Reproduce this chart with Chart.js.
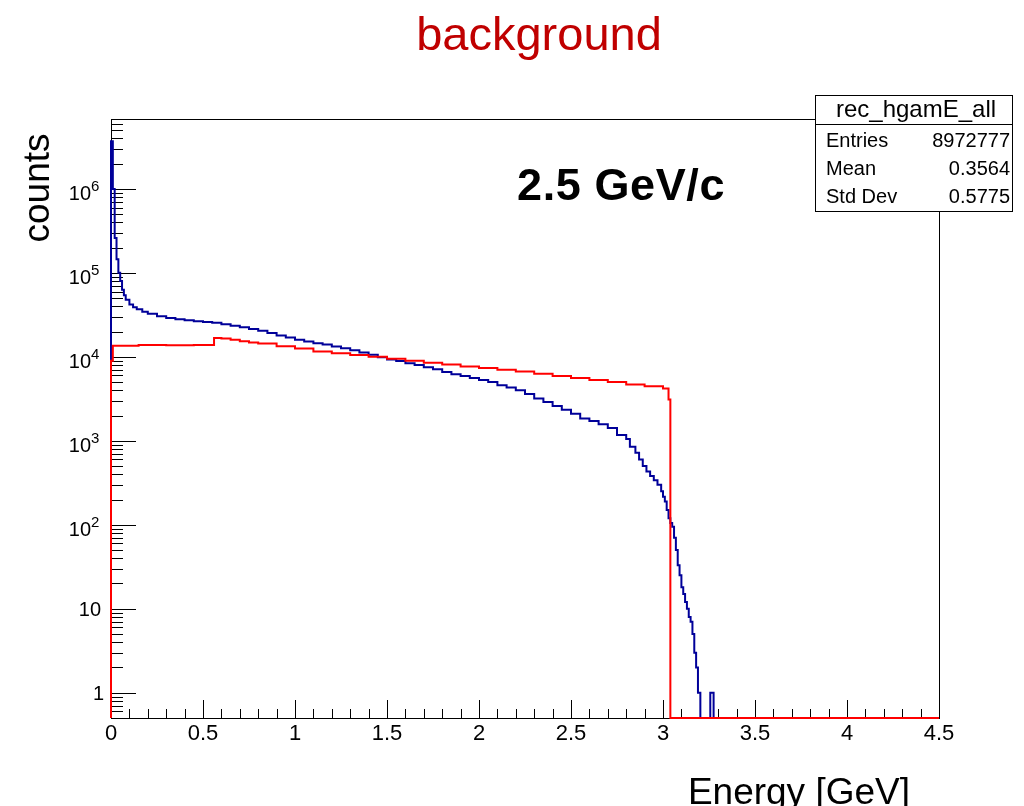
<!DOCTYPE html>
<html>
<head>
<meta charset="utf-8">
<title>background</title>
<script src="https://cdn.jsdelivr.net/npm/chart.js@4.4.1/dist/chart.umd.min.js"></script>
<style>
    html, body { margin: 0; padding: 0; background: #fff; }
    #wrap { width: 1024px; height: 806px; }
</style>
</head>
<body>
<div id="wrap"><canvas id="myChart" width="1024" height="806"></canvas></div>
<script>
// Нижние края бинов (ГэВ) и содержимое гистограмм
const blueEdges = [
    0, 0.01, 0.02, 0.03, 0.04, 0.05, 0.06, 0.07, 0.08, 0.10, 0.12, 0.14, 0.17, 0.20,
    0.25, 0.30, 0.35, 0.40, 0.45, 0.50, 0.55, 0.60, 0.65, 0.70, 0.75, 0.80, 0.85, 0.90,
    0.95, 1.00, 1.05, 1.10, 1.15, 1.20, 1.25, 1.30, 1.35, 1.40, 1.45, 1.50, 1.55, 1.60,
    1.65, 1.70, 1.75, 1.80, 1.85, 1.90, 1.95, 2.00, 2.05, 2.10, 2.15, 2.20, 2.25, 2.30,
    2.35, 2.40, 2.45, 2.50, 2.55, 2.60, 2.65, 2.70, 2.75, 2.80, 2.82, 2.85, 2.87, 2.89,
    2.91, 2.93, 2.95, 2.97, 2.99, 3.00, 3.01, 3.02, 3.03, 3.04, 3.05, 3.06, 3.07, 3.08,
    3.09, 3.10, 3.11, 3.12, 3.13, 3.14, 3.15, 3.16, 3.17, 3.18, 3.19, 3.203, 3.257, 3.275
];
const blueCounts = [
    3.7e6, 1.0e6, 2.6e5, 1.45e5, 1.0e5, 8.0e4, 6.3e4, 5.4e4, 4.8e4, 4.2e4, 3.9e4, 3.7e4, 3.45e4, 3.25e4,
    3.05e4, 2.9e4, 2.8e4, 2.72e4, 2.65e4, 2.6e4, 2.55e4, 2.45e4, 2.35e4, 2.25e4, 2.15e4, 2.05e4, 1.92e4, 1.8e4,
    1.7e4, 1.6e4, 1.52e4, 1.45e4, 1.4e4, 1.33e4, 1.27e4, 1.2e4, 1.13e4, 1.06e4, 9.9e3, 9.3e3, 8.9e3, 8.4e3,
    8.0e3, 7.5e3, 7.1e3, 6.6e3, 6.2e3, 5.9e3, 5.6e3, 5.3e3, 5.0e3, 4.6e3, 4.3e3, 4.0e3, 3.6e3, 3.2e3,
    2.9e3, 2.6e3, 2.35e3, 2.1e3, 1.85e3, 1.72e3, 1.58e3, 1.42e3, 1.17e3, 1.05e3, 850, 720, 600, 500,
    430, 380, 340, 300, 250, 215, 190, 150, 120, 105, 95, 70, 50, 33,
    25, 18, 15, 12, 10, 8, 7, 5, 3, 2, 1, 0, 1, 0
];
const redEdges = [
    0, 0.01, 0.15, 0.30, 0.45, 0.56, 0.60, 0.65, 0.70, 0.75, 0.80, 0.90, 1.00, 1.10,
    1.20, 1.30, 1.40, 1.50, 1.60, 1.70, 1.80, 1.90, 2.00, 2.10, 2.20, 2.30, 2.40, 2.50,
    2.60, 2.70, 2.80, 2.90, 3.00, 3.03, 3.04
];
const redCounts = [
    9.0e3, 1.36e4, 1.38e4, 1.37e4, 1.38e4, 1.68e4, 1.65e4, 1.6e4, 1.53e4, 1.48e4, 1.44e4, 1.34e4, 1.26e4, 1.16e4,
    1.1e4, 1.05e4, 1.0e4, 9.5e3, 9.0e3, 8.5e3, 8.1e3, 7.7e3, 7.35e3, 7.0e3, 6.7e3, 6.3e3, 5.9e3, 5.6e3,
    5.3e3, 5.0e3, 4.7e3, 4.45e3, 4.2e3, 3.1e3, 0
];

// Подписи осей
const xTickValues = [0, 0.5, 1, 1.5, 2, 2.5, 3, 3.5, 4, 4.5];
const yTickValues = [1, 10, 100, 1000, 10000, 100000, 1000000];
const yTickLabels = ['1', '10', '10^2', '10^3', '10^4', '10^5', '10^6'];

// Окно статистики
const statNames = ['Entries', 'Mean', 'Std Dev'];
const statValues = ['8972777', '0.3564', '0.5775'];

const X_MAX = 4.5;
const Y_MIN = 0.5;
const Y_MAX = 6.8e6;
const FONT = '"Liberation Sans", Arial, Helvetica, sans-serif';

// Гистограмма в виде ступенчатой линии (пустые бины рисуются по нижней рамке)
function toPoints(edges, counts) {
    const pts = [{ x: 0, y: Y_MIN }];
    edges.forEach((e, i) => pts.push({ x: e, y: counts[i] > 0 ? counts[i] : Y_MIN }));
    const last = counts[counts.length - 1];
    pts.push({ x: X_MAX, y: last > 0 ? last : Y_MIN });
    return pts;
}

// Рамка, внутренние засечки и подписи как в ROOT
const rootFrame = {
    id: 'rootFrame',
    beforeDatasetsDraw(chart) {
        const { ctx, chartArea: a } = chart;
        const xs = chart.scales.x;
        const ys = chart.scales.y;
        ctx.save();
        ctx.strokeStyle = '#000';
        ctx.lineWidth = 1;
        ctx.beginPath();
        for (let i = 0; i <= 45; i++) {
            const px = Math.round(xs.getPixelForValue(i / 10)) + 0.5;
            const len = i % 5 === 0 ? 18 : 9;
            ctx.moveTo(px, a.bottom);
            ctx.lineTo(px, a.bottom - len);
        }
        for (let e = -1; e <= 6; e++) {
            for (let m = 1; m <= 9; m++) {
                const v = m * Math.pow(10, e);
                if (v < Y_MIN || v > Y_MAX) continue;
                const py = Math.round(ys.getPixelForValue(v)) + 0.5;
                const len = m === 1 ? 25 : 12;
                ctx.moveTo(a.left, py);
                ctx.lineTo(a.left + len, py);
            }
        }
        ctx.stroke();
        ctx.strokeRect(Math.round(a.left) + 0.5, Math.round(a.top) + 0.5,
            Math.round(a.right - a.left), Math.round(a.bottom - a.top));

        // Подписи логарифмической оси со степенями
        ctx.fillStyle = '#000';
        ctx.textBaseline = 'alphabetic';
        yTickValues.forEach((v, i) => {
            const py = ys.getPixelForValue(v);
            const [base, exp] = yTickLabels[i].split('^');
            if (exp) {
                ctx.font = `20px ${FONT}`;
                ctx.textAlign = 'right';
                ctx.fillText(base, 91, py + 11);
                ctx.font = `15px ${FONT}`;
                ctx.textAlign = 'left';
                ctx.fillText(exp, 91, py + 2);
            } else {
                ctx.font = `20px ${FONT}`;
                ctx.textAlign = 'right';
                ctx.fillText(base, base === '1' ? 104 : 101, py + 7.5);
            }
        });
        ctx.restore();
    },
    afterDraw(chart) {
        const ctx = chart.ctx;
        ctx.save();

        // Заголовок
        ctx.fillStyle = '#c00000';
        ctx.font = `47px ${FONT}`;
        ctx.textAlign = 'center';
        ctx.textBaseline = 'alphabetic';
        ctx.fillText('background', 539, 50);

        // Импульс пучка
        ctx.fillStyle = '#000';
        ctx.font = `bold 45px ${FONT}`;
        ctx.textAlign = 'left';
        ctx.letterSpacing = '0.6px';
        ctx.fillText('2.5 GeV/c', 517, 200);
        ctx.letterSpacing = '0px';

        // Названия осей
        ctx.font = `37px ${FONT}`;
        ctx.textAlign = 'right';
        ctx.fillText('Energy [GeV]', 910, 804);

        ctx.save();
        ctx.translate(49, 188);
        ctx.rotate(-Math.PI / 2);
        ctx.font = `37px ${FONT}`;
        ctx.textAlign = 'center';
        ctx.fillText('counts', 0, 0);
        ctx.restore();

        // Окно статистики
        ctx.fillStyle = '#fff';
        ctx.fillRect(815.5, 95.5, 197, 116);
        ctx.strokeStyle = '#000';
        ctx.lineWidth = 1;
        ctx.strokeRect(815.5, 95.5, 197, 116);
        ctx.beginPath();
        ctx.moveTo(815.5, 124.5);
        ctx.lineTo(1012.5, 124.5);
        ctx.stroke();

        ctx.fillStyle = '#000';
        ctx.font = `24px ${FONT}`;
        ctx.textAlign = 'center';
        ctx.fillText('rec_hgamE_all', 916, 117);

        ctx.font = `20px ${FONT}`;
        const rowY = [147, 175, 203];
        statNames.forEach((name, i) => {
            ctx.textAlign = 'left';
            ctx.fillText(name, 826, rowY[i]);
            ctx.textAlign = 'right';
            ctx.fillText(statValues[i], 1010, rowY[i]);
        });
        ctx.restore();
    }
};

// Формирование графика
function renderHistogram() {
    const ctx = document.getElementById('myChart').getContext('2d');
    new Chart(ctx, {
        type: 'line',
        data: {
            datasets: [
                {
                    label: 'rec_hgamE_all',
                    data: toPoints(blueEdges, blueCounts),
                    borderColor: '#000099',
                    borderWidth: 2,
                    stepped: true,
                    pointRadius: 0,
                    fill: false,
                    clip: 4,
                    order: 1,
                },
                {
                    label: 'background',
                    data: toPoints(redEdges, redCounts),
                    borderColor: '#ff0000',
                    borderWidth: 2,
                    stepped: true,
                    pointRadius: 0,
                    fill: false,
                    clip: 4,
                    order: 0,
                },
            ]
        },
        options: {
            responsive: false,
            animation: false,
            layout: { padding: { top: 119, right: 85, left: 0, bottom: 0 } },
            plugins: {
                legend: { display: false },
                tooltip: { enabled: false },
                title: { display: false },
            },
            scales: {
                x: {
                    type: 'linear',
                    min: 0,
                    max: X_MAX,
                    grid: { display: false, drawTicks: false },
                    border: { display: false },
                    afterBuildTicks: (scale) => { scale.ticks = xTickValues.map(v => ({ value: v })); },
                    afterFit: (scale) => { scale.height = 88; },
                    ticks: {
                        autoSkip: false,
                        maxRotation: 0,
                        padding: 3,
                        color: '#000',
                        font: { family: FONT, size: 22 },
                        callback: (value) => String(value),
                    },
                },
                y: {
                    type: 'logarithmic',
                    min: Y_MIN,
                    max: Y_MAX,
                    grid: { display: false, drawTicks: false },
                    border: { display: false },
                    afterBuildTicks: (scale) => { scale.ticks = yTickValues.map(v => ({ value: v })); },
                    afterFit: (scale) => { scale.width = 111; },
                    ticks: { display: false },
                },
            },
        },
        plugins: [rootFrame],
    });
}

document.addEventListener('DOMContentLoaded', () => {
    renderHistogram();
});
</script>
</body>
</html>
